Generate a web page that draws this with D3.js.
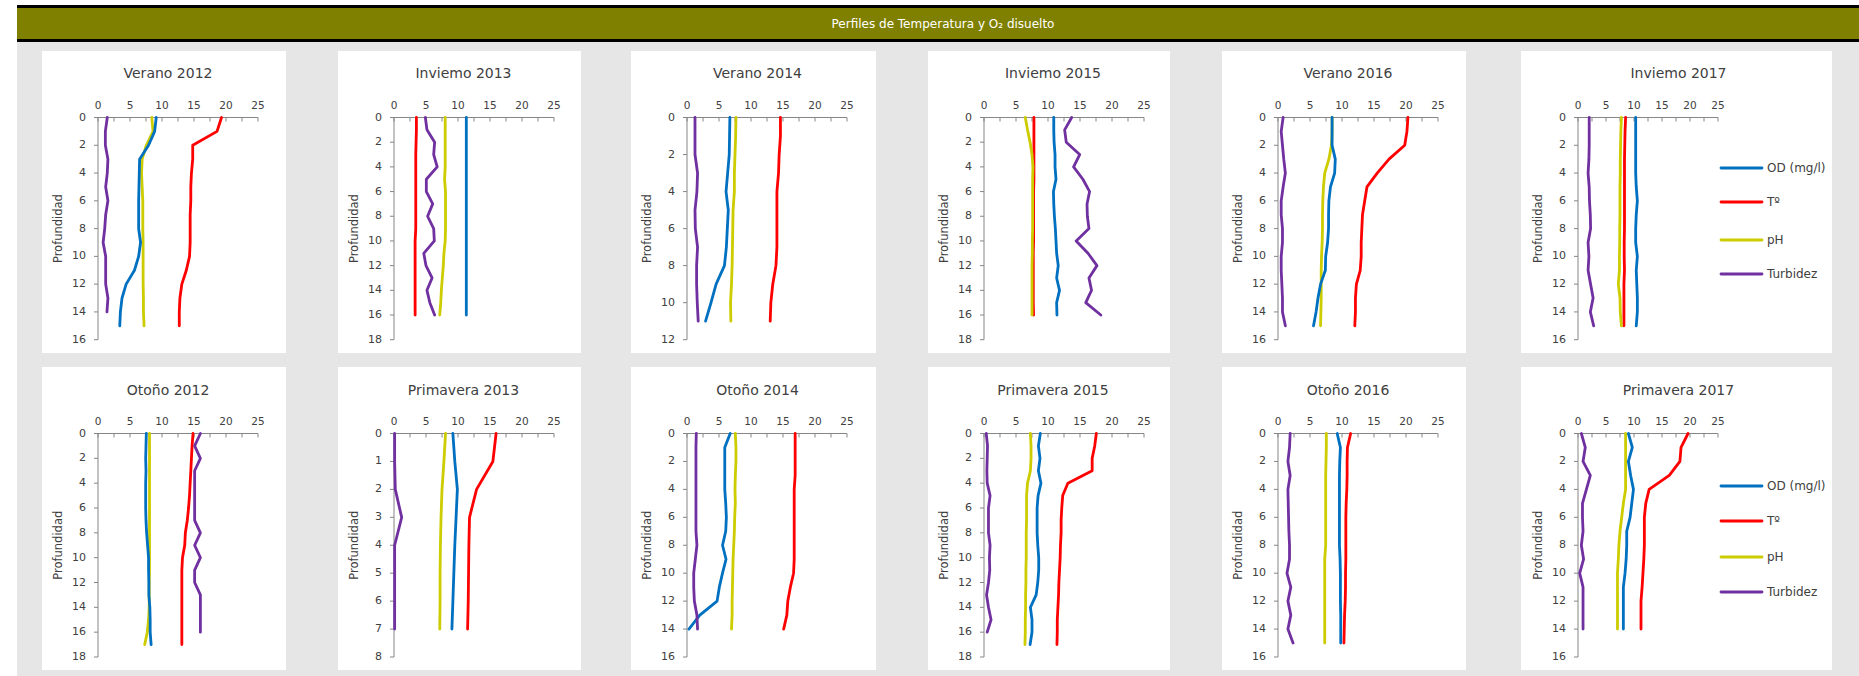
<!DOCTYPE html>
<html><head><meta charset="utf-8">
<script src="https://cdn.jsdelivr.net/npm/d3@7"></script>
<style>
html,body{margin:0;padding:0;background:#fff;}
svg{display:block;}
text{font-family:"DejaVu Sans",sans-serif;}
</style></head>
<body>
<svg id="chart" width="1859" height="676"></svg>
<script>
// ---------------- DATA ----------------
const headerTitle = "Perfiles de Temperatura y O\u2082 disuelto";
const seriesNames = ["OD (mg/l)", "T\u00ba", "pH", "Turbidez"];
const panelTitles = ["Verano 2012","Inviemo 2013","Verano 2014","Inviemo 2015","Verano 2016","Inviemo 2017",
                     "Oto\u00f1o 2012","Primavera 2013","Oto\u00f1o 2014","Primavera 2015","Oto\u00f1o 2016","Primavera 2017"];
const depthAxisMax = [16,18,12,18,16,16, 18,8,16,18,16,16];
const depthTickStep = [2,2,2,2,2,2, 2,1,2,2,2,2];
const valueTicks = [0,5,10,15,20,25];

// values indexed by depth (m): index = depth
const od = [
 [9.1,8.85,7.9,6.5,6.45,6.4,6.35,6.35,6.35,6.65,6.35,5.7,4.4,3.75,3.5,3.4],
 [11.3,11.3,11.3,11.3,11.3,11.3,11.3,11.3,11.3,11.3,11.3,11.3,11.3,11.3,11.3,11.3,11.3],
 [6.7,6.65,6.6,6.35,6.1,6.45,6.3,6.15,5.85,4.55,3.75,2.9],
 [10.9,10.9,10.95,11.1,11.1,11.25,10.85,10.9,11.0,11.15,11.25,11.35,11.6,11.35,11.8,11.35,11.4],
 [8.45,8.45,8.45,8.95,8.85,8.2,7.95,7.9,7.9,7.75,7.45,7.4,6.65,6.25,5.95,5.55],
 [10.3,10.3,10.3,10.3,10.3,10.4,10.6,10.4,10.3,10.3,10.6,10.4,10.5,10.6,10.6,10.4],
 [7.55,7.5,7.45,7.5,7.45,7.45,7.45,7.5,7.6,7.75,7.9,7.9,7.95,7.95,8.1,8.15,8.15,8.3],
 [9.2,9.5,9.9,9.7,9.5,9.35,9.2,9.05],
 [6.75,5.9,5.9,5.9,5.9,6.05,6.15,6.05,5.55,6.1,5.55,5.05,4.7,2.0,0.3],
 [8.8,8.5,8.75,8.5,8.9,8.45,8.3,8.3,8.3,8.4,8.55,8.55,8.4,8.15,7.25,7.5,7.5,7.2],
 [9.25,9.75,9.65,9.6,9.6,9.6,9.6,9.6,9.6,9.7,9.75,9.75,9.75,9.8,9.8,9.8],
 [9.0,9.7,9.0,9.4,9.9,9.6,9.3,8.7,8.7,8.6,8.4,8.1,8.1,8.1,8.1]
];
const temp = [
 [19.3,18.6,14.8,14.8,14.6,14.5,14.5,14.4,14.4,14.4,14.3,13.8,13.1,12.8,12.7,12.7],
 [3.5,3.5,3.45,3.4,3.4,3.4,3.4,3.4,3.4,3.4,3.3,3.3,3.3,3.3,3.3,3.3,3.3],
 [14.6,14.6,14.4,14.3,14.05,14.05,14.05,14.05,13.9,13.4,13.1,13.0],
 [7.8,7.8,7.8,7.8,7.8,7.8,7.75,7.75,7.75,7.75,7.75,7.7,7.7,7.7,7.7,7.7,7.75],
 [20.3,20.15,19.8,17.35,15.5,13.9,13.55,13.2,13.1,13.0,13.0,12.85,12.25,12.1,12.1,12.0],
 [8.5,8.4,8.35,8.3,8.3,8.3,8.3,8.3,8.3,8.25,8.25,8.3,8.2,8.2,8.2,8.2],
 [14.85,14.7,14.6,14.5,14.4,14.3,14.15,13.95,13.65,13.55,13.2,13.1,13.1,13.1,13.1,13.1,13.1,13.1],
 [15.95,15.45,12.9,11.8,11.7,11.65,11.6,11.5],
 [16.9,16.9,16.9,16.9,16.75,16.75,16.75,16.75,16.75,16.75,16.65,16.15,15.75,15.6,15.1],
 [17.55,17.3,16.9,16.9,13.1,12.3,12.15,12.05,12.05,11.95,11.9,11.8,11.7,11.65,11.55,11.45,11.45,11.4],
 [11.35,10.85,10.8,10.8,10.75,10.65,10.6,10.6,10.6,10.6,10.55,10.55,10.5,10.4,10.35,10.3],
 [19.65,18.4,18.2,16.3,12.7,12.1,11.85,11.85,11.85,11.75,11.6,11.45,11.25,11.25,11.25]
];
const ph = [
 [8.4,8.6,7.55,6.9,6.8,6.9,7.0,7.0,7.0,7.05,7.05,7.05,7.05,7.1,7.1,7.2],
 [8.0,8.0,8.0,8.0,8.0,7.9,8.05,8.05,8.05,8.05,8.0,7.8,7.7,7.55,7.4,7.3,7.15],
 [7.65,7.6,7.5,7.4,7.4,7.2,7.15,7.1,7.05,6.95,6.8,6.85],
 [6.45,6.8,7.2,7.5,7.65,7.6,7.6,7.6,7.6,7.6,7.55,7.55,7.5,7.5,7.5,7.5,7.5],
 [8.45,8.45,8.35,7.95,7.3,7.1,7.0,6.95,6.95,6.9,6.8,6.75,6.75,6.75,6.7,6.65],
 [7.75,7.65,7.6,7.55,7.55,7.5,7.5,7.5,7.45,7.45,7.4,7.4,7.2,7.5,7.55,7.75],
 [8.05,8.05,8.05,8.05,8.05,8.05,8.05,8.05,8.05,8.05,8.05,8.05,8.0,8.0,8.0,7.9,7.7,7.3],
 [8.05,7.8,7.5,7.35,7.25,7.2,7.2,7.15],
 [7.55,7.65,7.65,7.55,7.5,7.55,7.45,7.4,7.3,7.2,7.15,7.1,7.05,7.05,6.95],
 [7.25,7.35,7.35,7.25,6.8,6.65,6.65,6.65,6.6,6.6,6.6,6.55,6.55,6.5,6.5,6.45,6.45,6.4],
 [7.55,7.55,7.5,7.45,7.45,7.45,7.45,7.45,7.45,7.3,7.3,7.3,7.3,7.3,7.3,7.3],
 [8.5,8.5,8.5,8.5,8.5,8.1,7.8,7.5,7.3,7.2,7.05,7.05,7.05,7.05,7.05]
];
const turb = [
 [1.45,1.15,1.15,1.55,1.45,1.2,1.55,1.2,1.05,0.8,1.2,1.2,1.2,1.55,1.4],
 [4.9,5.15,6.35,6.2,6.75,5.05,5.05,6.05,5.25,6.2,6.3,4.65,5.0,5.95,5.15,5.6,6.35],
 [1.25,1.25,1.25,1.65,1.55,1.25,1.3,1.65,1.5,1.5,1.6,1.75],
 [13.7,12.6,12.85,14.95,14.0,15.45,16.5,16.1,16.15,16.4,14.4,16.25,17.65,16.4,16.8,15.9,18.25],
 [0.8,0.5,0.7,0.9,1.15,0.8,0.5,0.5,0.7,0.7,0.5,0.5,0.6,0.7,0.7,1.15],
 [2.0,2.0,2.0,1.95,1.8,2.0,2.05,2.2,2.25,1.8,1.95,1.8,2.25,2.7,2.2,2.8],
 [16.0,15.1,16.0,15.1,15.1,15.1,15.1,15.1,16.0,15.1,16.0,15.1,15.1,16.0,16.0,16.0,16.0],
 [0.1,0.1,0.2,1.2,0.1,0.1,0.1,0.1],
 [1.45,1.4,1.4,1.4,1.4,1.4,1.4,1.4,1.55,1.3,1.05,1.05,1.15,1.55,1.65],
 [0.35,0.55,0.5,0.45,0.5,0.95,0.7,0.7,0.7,0.95,0.85,0.9,0.7,0.4,0.7,1.1,0.5],
 [1.9,1.8,1.55,1.9,1.55,1.6,1.65,1.7,1.8,1.8,1.4,2.0,1.55,2.0,1.55,2.35],
 [0.6,1.3,0.9,2.2,1.5,0.8,0.8,0.9,0.6,1.0,0.3,0.9,0.9,0.9,0.9]
];

// ---------------- STYLE / LAYOUT ----------------
const seriesColors = ["#0070C0","#FF0000","#CCCC00","#7030A0"];
const panelLeft = [42,338,631,928,1222,1521];
const panelWidth = [244,243,245,242,244,311];
const rowTop = [51,367];
const panelHeight = [302,303];
const legendPanels = [5,11];

const svg = d3.select("#chart");
// page background
svg.append("rect").attr("x",17).attr("y",40).attr("width",1859-17).attr("height",676-40).attr("fill","#e6e6e6");
// header
svg.append("rect").attr("x",17).attr("y",5).attr("width",1859-17).attr("height",37).attr("fill","#000");
svg.append("rect").attr("x",17).attr("y",8).attr("width",1859-17).attr("height",31).attr("fill","#808000");
svg.append("text").attr("x",943).attr("y",24).attr("text-anchor","middle").attr("dominant-baseline","middle")
  .attr("fill","#fff").style("font-size","12px").text(headerTitle);

const allSeries = [od,temp,ph,turb];

panelTitles.forEach((title,i)=>{
  const col = i%6, row = Math.floor(i/6);
  const px = panelLeft[col], py = rowTop[row], pw = panelWidth[col], ph_ = panelHeight[row];
  const wide = legendPanels.includes(i);
  const g = svg.append("g").attr("transform",`translate(${px},${py})`);
  g.append("rect").attr("width",pw).attr("height",ph_).attr("fill","#fff");

  const x0 = wide?57:56, xw = wide?140:160;
  const y0 = 66.5, y1 = row===0?288.7:290;
  const x = d3.scaleLinear().domain([0,25]).range([x0,x0+xw]);
  const y = d3.scaleLinear().domain([0,depthAxisMax[i]]).range([y0,y1]);

  // title
  g.append("text").attr("x",pw/2+(wide?2:4)).attr("y",row===0?23:24).attr("text-anchor","middle")
    .attr("dominant-baseline","middle").attr("fill","#404040").style("font-size","14px").text(title);

  // x axis (top) with minor ticks
  const minor = d3.range(0,25.01,2.5);
  g.append("line").attr("x1",x(0)).attr("x2",x(25)).attr("y1",y0).attr("y2",y0).attr("stroke","#868686").attr("stroke-width",1);
  g.selectAll(".xt").data(minor).enter().append("line")
    .attr("x1",d=>x(d)).attr("x2",d=>x(d)).attr("y1",y0).attr("y2",y0+4).attr("stroke","#868686");
  g.selectAll(".xl").data(valueTicks).enter().append("text")
    .attr("x",d=>x(d)).attr("y",y0-12).attr("text-anchor","middle").attr("dominant-baseline","middle")
    .attr("fill","#404040").style("font-size","10.5px").text(d=>d);

  // y axis
  const yt = d3.range(0,depthAxisMax[i]+0.001,depthTickStep[i]);
  g.append("line").attr("x1",x0).attr("x2",x0).attr("y1",y0).attr("y2",y1).attr("stroke","#868686");
  g.selectAll(".yt").data(yt).enter().append("line")
    .attr("x1",x0-4).attr("x2",x0).attr("y1",d=>y(d)).attr("y2",d=>y(d)).attr("stroke","#868686");
  g.selectAll(".yl").data(yt).enter().append("text")
    .attr("x",x0-12).attr("y",d=>y(d)).attr("text-anchor","end").attr("dominant-baseline","middle")
    .attr("fill","#404040").style("font-size","11px").text(d=>d);
  g.append("text").attr("transform",`translate(${x0-40},${(y0+y1)/2}) rotate(-90)`)
    .attr("text-anchor","middle").attr("dominant-baseline","middle")
    .attr("fill","#404040").style("font-size","11.5px").text("Profundidad");

  // series lines (depth = index)
  const line = d3.line().x(d=>x(d)).y((d,k)=>y(k));
  const order = [1,2,0,3];
  order.forEach(s=>{
    g.append("path").datum(allSeries[s][i]).attr("d",line).attr("fill","none")
      .attr("stroke",seriesColors[s]).attr("stroke-width",2.8)
      .attr("stroke-linejoin","round").attr("stroke-linecap","round");
  });

  if(wide){
    const ly = row===0?[117,151,189,223]:[119,154,190,225];
    seriesNames.forEach((n,s)=>{
      g.append("line").attr("x1",200).attr("x2",241).attr("y1",ly[s]).attr("y2",ly[s])
        .attr("stroke",seriesColors[s]).attr("stroke-width",2.8).attr("stroke-linecap","round");
      g.append("text").attr("x",246).attr("y",ly[s]).attr("dominant-baseline","middle")
        .attr("fill","#404040").style("font-size","12px").text(n);
    });
  }
});
</script>
</body></html>
